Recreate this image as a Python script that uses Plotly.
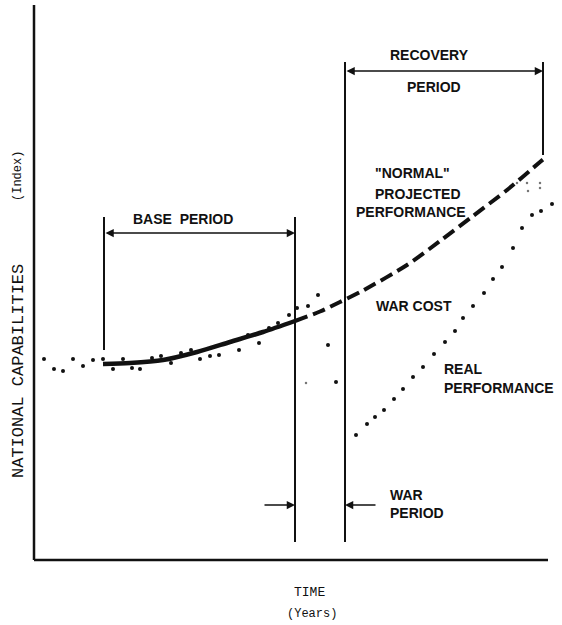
import plotly.graph_objects as go

# Time (years, arbitrary units) and national capability index
normal_base_t = [6.9, 9.6, 12.9, 16.3, 19.6, 22.9, 26.1]
normal_base_v = [39.2, 39.4, 40.0, 41.6, 43.6, 45.6, 47.8]

normal_proj_t = [26.1, 28.6, 30.6, 32.9, 37.3, 40.6, 43.9, 47.3, 50.6, 51.2]
normal_proj_v = [47.8, 49.7, 51.6, 53.9, 59.0, 63.8, 68.8, 74.0, 79.6, 80.6]

real_t = [1.0, 2.0, 2.9, 3.9, 4.9, 5.9, 6.9, 7.9, 8.9, 9.8, 10.6, 11.8, 12.7, 13.7,
          14.7, 15.7, 16.6, 17.6, 18.5, 19.6, 20.5, 21.4, 22.5, 23.5, 24.4, 25.5,
          26.3, 27.4, 28.4, 29.4, 30.2]
real_v = [40.2, 38.2, 37.8, 40.2, 38.8, 40.0, 40.2, 38.2, 40.2, 38.4, 38.2, 40.4,
          40.8, 39.4, 41.4, 42.0, 40.2, 40.8, 41.0, 43.6, 42.0, 45.0, 43.4, 46.4,
          47.4, 49.0, 50.4, 50.8, 53.0, 43.0, 35.6]

recovery_t = [32.2, 33.3, 34.1, 35.0, 36.0, 36.9, 37.9, 38.9, 40.0, 41.1, 42.1,
              42.9, 43.9, 45.0, 45.9, 46.8, 47.9, 48.8, 49.8, 50.7, 51.8]
recovery_v = [25.0, 27.2, 28.6, 30.0, 32.2, 34.2, 36.6, 38.6, 41.2, 43.6, 45.8,
              48.4, 50.8, 53.4, 56.2, 58.6, 62.4, 66.4, 69.0, 69.8, 71.2]

faint_t = [27.2, 48.3, 49.3, 50.6, 49.4, 50.6]
faint_v = [35.4, 75.4, 75.4, 75.4, 73.8, 74.4]

# Period boundaries (time)
base_start, war_start, war_end, recovery_end = 7.0, 26.1, 31.1, 50.9

BLACK = "#111111"
SANS = "Liberation Sans, Arial, sans-serif"
MONO = "Liberation Mono, Courier New, monospace"

fig = go.Figure()

fig.add_trace(go.Scatter(x=normal_base_t, y=normal_base_v, mode="lines",
                         line=dict(color=BLACK, width=4.5, shape="spline", smoothing=0.8),
                         hoverinfo="skip", showlegend=False))
fig.add_trace(go.Scatter(x=normal_proj_t, y=normal_proj_v, mode="lines",
                         line=dict(color=BLACK, width=4, shape="spline", smoothing=0.8,
                                   dash="13px,6px"),
                         hoverinfo="skip", showlegend=False))
fig.add_trace(go.Scatter(x=real_t + recovery_t, y=real_v + recovery_v, mode="markers",
                         marker=dict(color=BLACK, size=4),
                         cliponaxis=False, hoverinfo="skip", showlegend=False))
fig.add_trace(go.Scatter(x=faint_t, y=faint_v, mode="markers",
                         marker=dict(color="#777777", size=2.5),
                         cliponaxis=False, hoverinfo="skip", showlegend=False))

shapes = []
# axes
shapes.append(dict(type="line", x0=0, x1=0, y0=0, y1=111, line=dict(color=BLACK, width=2.5)))
shapes.append(dict(type="line", x0=0, x1=51.4, y0=0, y1=0, line=dict(color=BLACK, width=2.5)))
# period boundary verticals
shapes.append(dict(type="line", x0=base_start, x1=base_start, y0=42.0, y1=68.6, line=dict(color=BLACK, width=2)))
shapes.append(dict(type="line", x0=war_start, x1=war_start, y0=3.6, y1=68.6, line=dict(color=BLACK, width=2)))
shapes.append(dict(type="line", x0=war_end, x1=war_end, y0=3.6, y1=99.6, line=dict(color=BLACK, width=2)))
shapes.append(dict(type="line", x0=recovery_end, x1=recovery_end, y0=81.0, y1=99.6, line=dict(color=BLACK, width=2)))
fig.update_layout(shapes=shapes)

ann = []
def arrow(x_head, y, x_tail, both=False):
    ann.append(dict(x=x_head, y=y, ax=x_tail, ay=y, xref="x", yref="y", axref="x", ayref="y",
                    text="", showarrow=True, arrowhead=2, arrowsize=1.1, arrowwidth=1.5,
                    arrowcolor=BLACK, arrowside="end+start" if both else "end", standoff=0,
                    startstandoff=0))

arrow(war_start, 65.4, base_start, both=True)
arrow(recovery_end, 97.8, war_end, both=True)
arrow(war_start, 11.0, 22.9)
arrow(war_end, 11.0, 34.3)

def label(text, x, y, anchor="center", size=14, font=SANS, bold=True, angle=0):
    ann.append(dict(x=x, y=y, xref="x", yref="y", text=text, showarrow=False,
                    xanchor=anchor, yanchor="middle", textangle=angle,
                    font=dict(family=font, size=size, color=BLACK,
                              weight="bold" if bold else "normal")))

label("BASE  PERIOD", 14.9, 68.2)
label("RECOVERY", 39.5, 101.0)
label("PERIOD", 40.0, 94.6)
label("\"NORMAL\"", 37.8, 77.4)
label("PROJECTED", 38.4, 73.2)
label("PERFORMANCE", 37.7, 69.6)
label("WAR COST", 38.0, 50.8)
label("REAL", 40.8, 38.2, anchor="left")
label("PERFORMANCE", 40.8, 34.4, anchor="left")
label("WAR", 35.4, 13.0, anchor="left")
label("PERIOD", 35.4, 9.4, anchor="left")
label("TIME", 27.5, -6.4, size=13, font=MONO, bold=False)
label("(Years)", 27.8, -10.8, size=12, font=MONO, bold=False)
label("NATIONAL CAPABILITIES", -1.6, 37.8, size=17, font=MONO, bold=False, angle=-90)
label("(Index)", -1.6, 76.8, size=12, font=MONO, bold=False, angle=-90)
fig.update_layout(annotations=ann)

fig.update_layout(
    width=562, height=625,
    margin=dict(l=0, r=0, t=0, b=0),
    paper_bgcolor="white", plot_bgcolor="white",
    xaxis=dict(range=[-3.4, 52.8], visible=False, fixedrange=True),
    yaxis=dict(range=[-13, 112], visible=False, fixedrange=True),
    showlegend=False,
)

fig.write_html("out.html", config={"displayModeBar": False},
               post_script="document.body.style.margin='0px';document.body.style.padding='0px';")
